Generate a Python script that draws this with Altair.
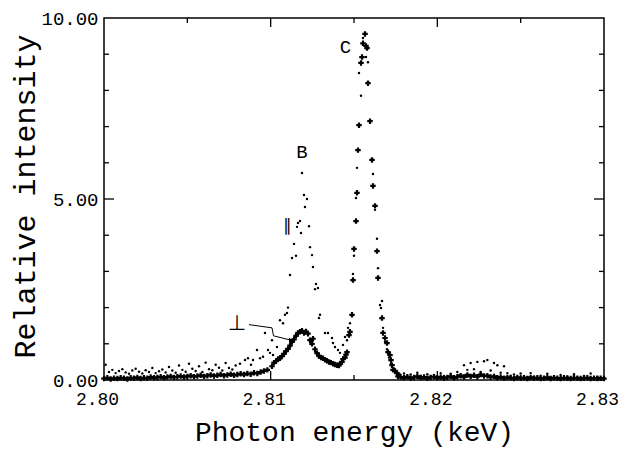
import altair as alt
import pandas as pd

# ---------------- data ----------------
# parallel polarisation (small dots)
par_x = [
    2.8001, 2.8003, 2.8005, 2.8007, 2.8009, 2.8011, 2.8013, 2.8015, 2.8017, 2.8019,
    2.8021, 2.8023, 2.8025, 2.8027, 2.8029, 2.8031, 2.8033, 2.8035, 2.8037, 2.8039,
    2.8041, 2.8043, 2.8045, 2.8047, 2.8049, 2.8051, 2.8053, 2.8055, 2.8057, 2.8059,
    2.8061, 2.8063, 2.8065, 2.8067, 2.8069, 2.8071, 2.8073, 2.8075, 2.8077, 2.8079,
    2.80816, 2.80846, 2.80864, 2.80882, 2.80894, 2.80918, 2.80936, 2.80954, 2.80966, 2.80984,
    2.80996, 2.81008, 2.81014, 2.81038, 2.81056, 2.81074, 2.81086, 2.81098, 2.81104, 2.81116,
    2.81128, 2.81140, 2.81152, 2.81158, 2.81164, 2.81176, 2.81182, 2.81188, 2.81200, 2.81206,
    2.81218, 2.81230, 2.81236, 2.81248, 2.81254, 2.81266, 2.81272, 2.81284, 2.81290, 2.81296,
    2.81326, 2.81344, 2.81368, 2.81374, 2.81386, 2.81404, 2.81416, 2.81434, 2.81446, 2.81458,
    2.81464, 2.81476, 2.81494, 2.81500, 2.81512, 2.81518, 2.81530, 2.81542, 2.81554, 2.81572,
    2.81584, 2.81614, 2.81626, 2.81638, 2.81644, 2.81656, 2.81662, 2.81668, 2.81674, 2.81686,
    2.81698, 2.81710, 2.81722, 2.81740, 2.81758, 2.81776,
    2.8180, 2.8182, 2.8184, 2.8186, 2.8188, 2.8190, 2.8192, 2.8194, 2.8196, 2.8198,
    2.8200, 2.8202, 2.8204, 2.8206, 2.8208, 2.8210, 2.8212, 2.8214, 2.8216, 2.8218,
    2.8220, 2.8222, 2.8224, 2.8226, 2.8228, 2.8230, 2.8232, 2.8234, 2.8236, 2.8238,
    2.8240, 2.8242, 2.8244, 2.8246, 2.8248, 2.8250, 2.8252, 2.8254, 2.8256, 2.8258,
    2.8260, 2.8262, 2.8264, 2.8266, 2.8268, 2.8270, 2.8272, 2.8274, 2.8276, 2.8278,
    2.8280, 2.8282, 2.8284, 2.8286, 2.8288, 2.8290, 2.8292, 2.8294, 2.8296, 2.8298,
]
par_y = [
    0.42, 0.22, 0.28, 0.19, 0.25, 0.30, 0.21, 0.17, 0.26, 0.31,
    0.23, 0.18, 0.27, 0.22, 0.33, 0.19, 0.24, 0.29, 0.21, 0.36,
    0.26, 0.20, 0.40, 0.28, 0.23, 0.45, 0.31, 0.25, 0.38, 0.22,
    0.48, 0.30, 0.27, 0.42, 0.34, 0.26, 0.47, 0.33, 0.29, 0.40,
    0.45, 0.55, 0.60, 0.42, 0.55, 0.83, 0.60, 0.64, 1.30, 0.83,
    0.75, 1.10, 0.69, 0.91, 1.65, 1.57, 1.80, 1.85, 2.00, 2.90,
    3.37, 3.76, 3.43, 4.23, 4.34, 4.39, 4.06, 5.72, 5.11, 4.78,
    5.00, 4.25, 3.67, 3.45, 3.12, 2.51, 2.65, 2.54, 1.71, 1.80,
    1.30, 1.30, 1.16, 1.02, 0.91, 0.83, 0.75, 0.97, 1.19, 1.10,
    1.44, 1.57, 2.93, 3.43, 5.03, 5.86, 8.48, 7.85, 9.45, 8.92,
    8.78, 5.69, 4.70, 3.90, 3.09, 2.07, 1.99, 2.18, 1.44, 1.05,
    0.85, 0.62, 0.45, 0.32, 0.22, 0.15,
    0.18, 0.10, 0.15, 0.08, 0.20, 0.12, 0.09, 0.16, 0.10, 0.14,
    0.07, 0.19, 0.11, 0.09, 0.17, 0.10, 0.22, 0.14, 0.41, 0.28,
    0.47, 0.30, 0.50, 0.22, 0.52, 0.55, 0.26, 0.47, 0.41, 0.20,
    0.38, 0.19, 0.12, 0.15, 0.08, 0.18, 0.10, 0.07, 0.19, 0.09,
    0.06, 0.12, 0.08, 0.17, 0.06, 0.09, 0.05, 0.14, 0.07, 0.10,
    0.06, 0.16, 0.08, 0.05, 0.11, 0.07, 0.18, 0.06, 0.09, 0.05,
]

# perpendicular polarisation (plus markers)
perp_x = [
    2.8000, 2.8002, 2.8004, 2.8006, 2.8008, 2.8010, 2.8012, 2.8014, 2.8016, 2.8018,
    2.8020, 2.8022, 2.8024, 2.8026, 2.8028, 2.8030, 2.8032, 2.8034, 2.8036, 2.8038,
    2.8040, 2.8042, 2.8044, 2.8046, 2.8048, 2.8050, 2.8052, 2.8054, 2.8056, 2.8058,
    2.8060, 2.8062, 2.8064, 2.8066, 2.8068, 2.8070, 2.8072, 2.8074, 2.8076, 2.8078,
    2.8080, 2.8082, 2.8084, 2.8086, 2.8088, 2.8090, 2.8092, 2.8094, 2.8096, 2.8098,
    2.81008, 2.81020, 2.81032, 2.81044, 2.81056, 2.81068, 2.81080, 2.81092, 2.81104, 2.81116,
    2.81128, 2.81140, 2.81152, 2.81164, 2.81176, 2.81188, 2.81200, 2.81212, 2.81224, 2.81236,
    2.81248, 2.81254, 2.81266, 2.81278, 2.81290, 2.81302, 2.81314, 2.81326, 2.81338, 2.81350,
    2.81362, 2.81374, 2.81386, 2.81398, 2.81410, 2.81416, 2.81428, 2.81434, 2.81446, 2.81452,
    2.81458, 2.81470, 2.81476, 2.81488, 2.81494, 2.81500, 2.81512, 2.81518, 2.81524, 2.81530,
    2.81542, 2.81548, 2.81554, 2.81566, 2.81572, 2.81578, 2.81584, 2.81596, 2.81608, 2.81614,
    2.81626, 2.81638, 2.81644, 2.81668, 2.81674, 2.81686, 2.81698, 2.81704, 2.81716, 2.81722,
    2.81728, 2.81734, 2.81746, 2.81758, 2.81764,
    2.8178, 2.8180, 2.8182, 2.8184, 2.8186, 2.8188, 2.8190, 2.8192, 2.8194, 2.8196,
    2.8198, 2.8200, 2.8202, 2.8204, 2.8206, 2.8208, 2.8210, 2.8212, 2.8214, 2.8216,
    2.8218, 2.8220, 2.8222, 2.8224, 2.8226, 2.8228, 2.8230, 2.8232, 2.8234, 2.8236,
    2.8238, 2.8240, 2.8242, 2.8244, 2.8246, 2.8248, 2.8250, 2.8252, 2.8254, 2.8256,
    2.8258, 2.8260, 2.8262, 2.8264, 2.8266, 2.8268, 2.8270, 2.8272, 2.8274, 2.8276,
    2.8278, 2.8280, 2.8282, 2.8284, 2.8286, 2.8288, 2.8290, 2.8292, 2.8294, 2.8296,
    2.8298, 2.8300,
]
perp_y = [
    0.04, 0.06, 0.03, 0.05, 0.04, 0.06, 0.05, 0.03, 0.06, 0.05,
    0.07, 0.04, 0.06, 0.05, 0.08, 0.06, 0.07, 0.09, 0.06, 0.08,
    0.10, 0.07, 0.09, 0.11, 0.08, 0.10, 0.12, 0.09, 0.11, 0.13,
    0.10, 0.12, 0.14, 0.11, 0.13, 0.15, 0.12, 0.14, 0.16, 0.13,
    0.15, 0.17, 0.15, 0.18, 0.16, 0.20, 0.18, 0.22, 0.25, 0.28,
    0.38, 0.48, 0.52, 0.58, 0.60, 0.66, 0.72, 0.80, 0.86, 0.95,
    1.05, 1.12, 1.22, 1.30, 1.33, 1.36, 1.30, 1.34, 1.28, 1.10,
    1.00, 1.14, 0.85, 0.74, 0.66, 0.62, 0.60, 0.56, 0.53, 0.50,
    0.48, 0.45, 0.43, 0.41, 0.40, 0.45, 0.50, 0.58, 0.62, 0.70,
    0.77, 1.24, 1.33, 1.80, 2.76, 3.62, 4.39, 5.17, 6.35, 7.04,
    8.76, 8.92, 9.30, 9.56, 9.23, 9.17, 8.20, 7.15, 6.08, 5.36,
    4.81, 3.56, 2.82, 1.71, 1.30, 1.16, 1.02, 0.77, 0.69, 0.55,
    0.41, 0.28, 0.25, 0.19, 0.10,
    0.08, 0.06, 0.09, 0.05, 0.07, 0.10, 0.06, 0.08, 0.05, 0.07,
    0.09, 0.06, 0.08, 0.05, 0.07, 0.10, 0.06, 0.09, 0.12, 0.08,
    0.14, 0.10, 0.13, 0.09, 0.15, 0.11, 0.12, 0.08, 0.10, 0.06,
    0.08, 0.05, 0.07, 0.06, 0.04, 0.07, 0.05, 0.06, 0.04, 0.07,
    0.05, 0.06, 0.04, 0.05, 0.07, 0.04, 0.06, 0.05, 0.04, 0.06,
    0.05, 0.04, 0.06, 0.05, 0.04, 0.05, 0.06, 0.04, 0.05, 0.04,
    0.05, 0.04,
]

# axis labels and tick positions
x_label_values = [2.80, 2.81, 2.82, 2.83]
y_label_values = [0, 5, 10]
x_major_ticks = [2.81, 2.82]
x_minor_ticks = [2.805, 2.815, 2.825]
y_major_ticks = [5]
y_minor_ticks = [1, 2, 3, 4, 6, 7, 8, 9]

# peak annotations
peak_text = ["C", "B"]
peak_x = [2.81449, 2.81188]
peak_y = [9.20, 6.30]
par_sym = ["\u2225"]
par_sym_x = [2.81101]
par_sym_y = [4.25]
perp_sym = ["\u22a5"]
perp_sym_x = [2.80798]
perp_sym_y = [1.55]
leader_x = [2.80870, 2.81008, 2.81017, 2.81122]
leader_y = [1.53, 1.44, 1.22, 1.10]

# ---------------- chart ----------------
W, H = 500, 362
FONT = "Liberation Mono"

xs = alt.Scale(domain=[2.80, 2.83], nice=False, zero=False)
ys = alt.Scale(domain=[0, 10], nice=False, zero=False)

x_axis = alt.Axis(
    values=x_label_values, format=".2f", title="Photon energy (keV)",
    ticks=False, domain=False, grid=False, labelFlush=False, labelOverlap=False,
    labelFont=FONT, labelFontSize=18, labelPadding=10, labelOffset=-7, labelColor="black",
    titleFont=FONT, titleFontSize=28, titleFontWeight="normal", titleColor="black",
    titleY=52, titleBaseline="middle",
)
y_axis = alt.Axis(
    values=y_label_values, format=".2f", title="Relative intensity",
    ticks=False, domain=False, grid=False, labelFlush=False, labelOverlap=False,
    labelFont=FONT, labelFontSize=19, labelPadding=6, labelColor="black",
    titleFont=FONT, titleFontSize=30, titleFontWeight="normal", titleColor="black",
    titleX=-79, titleY=178, titleBaseline="middle", titleAngle=270,
)

X = alt.X("E:Q", scale=xs, axis=x_axis)
Y = alt.Y("I:Q", scale=ys, axis=y_axis)

par_df = pd.DataFrame({"E": par_x, "I": par_y})
perp_df = pd.DataFrame({"E": perp_x, "I": perp_y})

par_layer = alt.Chart(par_df).mark_circle(size=6, color="black", opacity=1).encode(x=X, y=Y)
perp_layer = alt.Chart(perp_df).mark_point(
    shape="cross", filled=True, size=30, color="black", opacity=1
).encode(x=X, y=Y)

tick_layers = []
for vals, length in [(x_major_ticks, 9), (x_minor_ticks, 5)]:
    df = pd.DataFrame({"E": vals})
    tick_layers.append(alt.Chart(df).mark_rule(color="black", strokeWidth=1.3).encode(
        x=X, y=alt.value(H), y2=alt.value(H - length)))
    tick_layers.append(alt.Chart(df).mark_rule(color="black", strokeWidth=1.3).encode(
        x=X, y=alt.value(0), y2=alt.value(length)))
for vals, length in [(y_major_ticks, 10), (y_minor_ticks, 5)]:
    df = pd.DataFrame({"I": vals})
    tick_layers.append(alt.Chart(df).mark_rule(color="black", strokeWidth=1.3).encode(
        y=Y, x=alt.value(0), x2=alt.value(length)))
    tick_layers.append(alt.Chart(df).mark_rule(color="black", strokeWidth=1.3).encode(
        y=Y, x=alt.value(W), x2=alt.value(W - length)))

peak_df = pd.DataFrame({"E": peak_x, "I": peak_y, "t": peak_text})
peak_layer = alt.Chart(peak_df).mark_text(
    font=FONT, fontSize=19, color="black", baseline="middle", align="center"
).encode(x=X, y=Y, text="t:N")

par_sym_df = pd.DataFrame({"E": par_sym_x, "I": par_sym_y, "t": par_sym})
par_sym_layer = alt.Chart(par_sym_df).mark_text(
    font="DejaVu Sans", fontSize=17, color="black", baseline="middle", align="center"
).encode(x=X, y=Y, text="t:N")

perp_sym_df = pd.DataFrame({"E": perp_sym_x, "I": perp_sym_y, "t": perp_sym})
perp_sym_layer = alt.Chart(perp_sym_df).mark_text(
    font="DejaVu Sans", fontSize=21, color="black", baseline="middle", align="center"
).encode(x=X, y=Y, text="t:N")

lead_df = pd.DataFrame({"E": leader_x, "I": leader_y, "k": list(range(len(leader_x)))})
lead_layer = alt.Chart(lead_df).mark_line(color="black", strokeWidth=1).encode(
    x=X, y=Y, order="k:O")
arrow_df = pd.DataFrame({"E": leader_x[-1:], "I": leader_y[-1:]})
arrow_layer = alt.Chart(arrow_df).mark_point(
    shape="triangle-right", filled=True, size=22, color="black", opacity=1
).encode(x=X, y=Y)

chart = alt.layer(
    par_layer, perp_layer, *tick_layers, peak_layer, par_sym_layer, perp_sym_layer,
    lead_layer, arrow_layer
).properties(
    width=W, height=H,
    autosize=alt.AutoSizeParams(type="none"),
    padding={"left": 96, "top": 10, "right": 14, "bottom": 72},
    background="white",
).configure_view(stroke="black", strokeWidth=1.5)

chart.save("out.html", embed_options={"renderer": "svg", "actions": False})
